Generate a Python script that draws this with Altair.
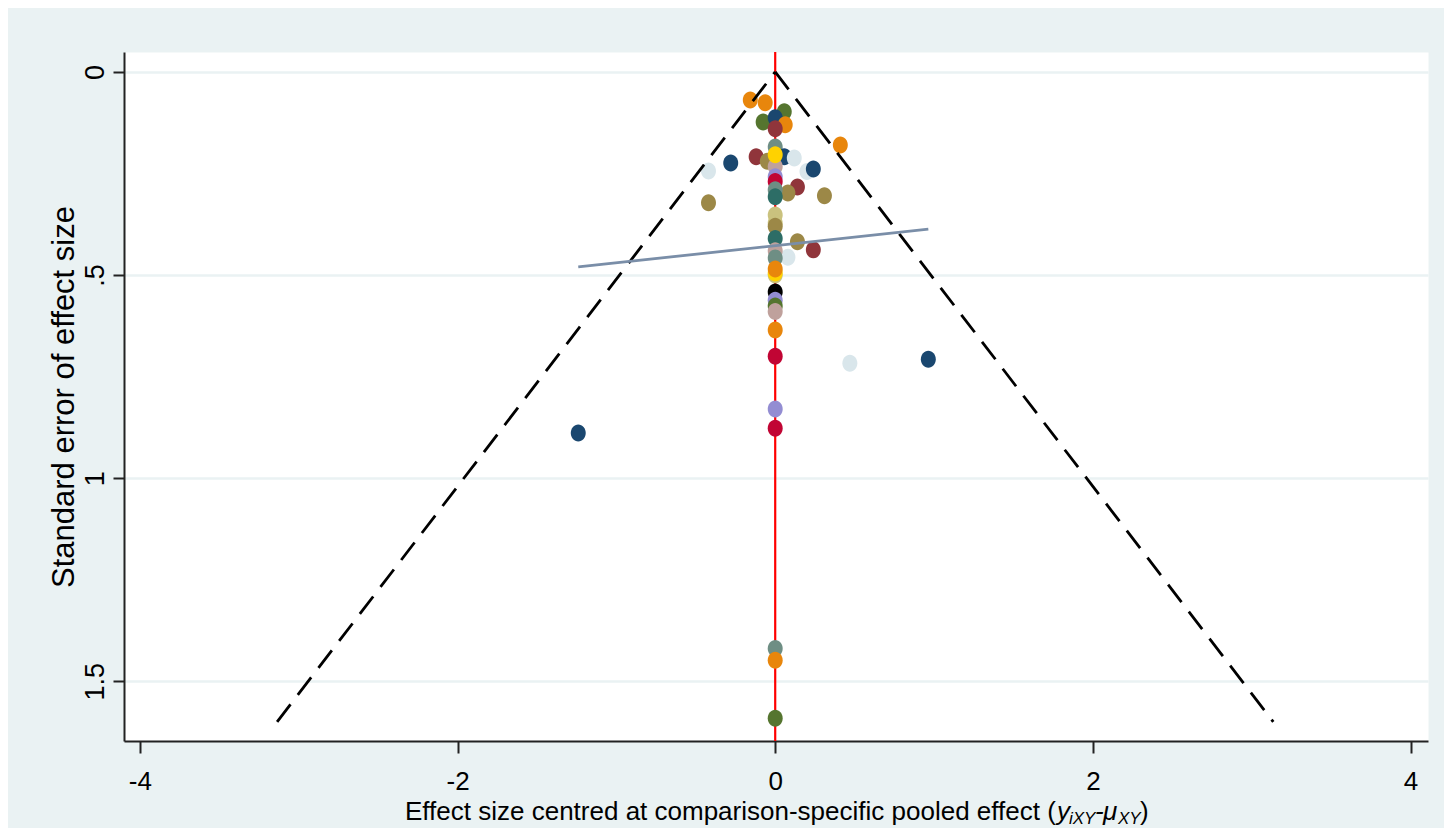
import altair as alt
import pandas as pd

# ---- data ----
pt_x = [-0.157, -0.063, 0.057, -0.076, 0.0, 0.063, 0.0, 0.41, 0.0, 0.057,
        0.12, -0.12, -0.05, -0.28, -0.42, 0.20, 0.24, 0.0, 0.0, 0.0,
        0.0, 0.14, 0.08, 0.31, -0.42, 0.0, 0.0, 0.0, 0.0, 0.0,
        0.0, 0.14, 0.24, 0.08, 0.0, 0.0, 0.0, 0.0, 0.0, 0.0,
        0.0, 0.0, 0.0, 0.0, 0.0, 0.47, 0.964, -1.24, 0.0, 0.0,
        0.0, 0.0, 0.0]
pt_se = [0.069, 0.076, 0.098, 0.123, 0.113, 0.130, 0.140, 0.180, 0.185, 0.209,
         0.212, 0.209, 0.220, 0.224, 0.244, 0.245, 0.239, 0.233, 0.204, 0.258,
         0.270, 0.283, 0.298, 0.305, 0.322, 0.290, 0.307, 0.352, 0.372, 0.380,
         0.410, 0.418, 0.438, 0.456, 0.440, 0.458, 0.500, 0.495, 0.485, 0.542,
         0.562, 0.576, 0.590, 0.635, 0.700, 0.717, 0.707, 0.889, 0.830, 0.877,
         1.419, 1.448, 1.591]
pt_grp = ["dkorange", "dkorange", "forest_green", "forest_green", "navy", "dkorange", "maroon", "dkorange", "teal", "navy",
          "bluishgray", "maroon", "brown", "navy", "bluishgray", "bluishgray", "navy", "erose", "gold", "lavender",
          "cranberry", "maroon", "brown", "brown", "brown", "teal", "emerald", "khaki", "khaki", "brown",
          "emerald", "brown", "maroon", "bluishgray", "erose", "teal", "khaki", "gold", "dkorange", "black",
          "lavender", "forest_green", "erose", "dkorange", "cranberry", "bluishgray", "navy", "navy", "lavender", "cranberry",
          "teal", "dkorange", "forest_green"]

grp_names = ["navy", "maroon", "forest_green", "dkorange", "teal", "cranberry", "lavender",
             "khaki", "emerald", "brown", "erose", "gold", "bluishgray", "black"]
grp_colors = ["#1A476F", "#90353B", "#55752F", "#E8860C", "#6E8E84", "#C10534", "#938DD2",
              "#CAC27E", "#2D6D66", "#9C8847", "#BFA19C", "#FFD200", "#D9E6EB", "#000000"]

funnel_x = [0.0, -3.136, 0.0, 3.136]
funnel_se = [0.0, 1.6, 0.0, 1.6]
funnel_side = ["left", "left", "right", "right"]

reg_x = [-1.24, 0.964]
reg_se = [0.480, 0.387]

x_ticks = [-4, -2, 0, 2, 4]
y_ticks = [0, 0.5, 1, 1.5]

FONT = "Liberation Sans"
W, H = 1304, 689

pts = pd.DataFrame({"x": pt_x, "se": pt_se, "grp": pt_grp})
fun = pd.DataFrame({"x": funnel_x, "se": funnel_se, "side": funnel_side})
reg = pd.DataFrame({"x": reg_x, "se": reg_se})

xscale = alt.Scale(domain=[-4.10, 4.11], nice=False, zero=False)
yscale = alt.Scale(domain=[-0.049, 1.647], nice=False, zero=False, reverse=True)

xaxis = alt.Axis(values=x_ticks, title=None, grid=False,
                 labelExpr="datum.value < 0 ? '-' + abs(datum.value) : '' + datum.value",
                 labelFont=FONT, labelFontSize=26, labelColor="black", labelPadding=15,
                 tickSize=12, tickWidth=2, tickColor="#222222",
                 domainColor="#222222", domainWidth=2, labelAngle=0)
yaxis = alt.Axis(values=y_ticks, title="Standard error of effect size",
                 labelExpr="datum.value == 0.5 ? '.5' : '' + datum.value",
                 labelFont=FONT, labelFontSize=27, labelColor="black",
                 labelAngle=270, labelAlign="center", labelBaseline="alphabetic", labelPadding=10,
                 tickSize=11, tickWidth=2, tickColor="#222222",
                 domainColor="#222222", domainWidth=2,
                 grid=True, gridColor="#EAF2F3", gridWidth=2.5,
                 titleFont=FONT, titleFontSize=31, titleFontWeight="normal", titleColor="black",
                 titlePadding=1)

base_x = alt.X("x:Q", scale=xscale, axis=xaxis)
base_y = alt.Y("se:Q", scale=yscale, axis=yaxis)

redline = alt.Chart(pd.DataFrame({"x": [0.0]})).mark_rule(color="#FF0000", strokeWidth=2.2).encode(
    x=alt.X("x:Q", scale=xscale, axis=xaxis))

ellipse = ("M 0 -1 C 0.486 -1 0.88 -0.5523 0.88 0 C 0.88 0.5523 0.486 1 0 1 "
           "C -0.486 1 -0.88 0.5523 -0.88 0 C -0.88 -0.5523 -0.486 -1 0 -1 Z")
points = alt.Chart(pts).mark_point(shape=ellipse, filled=True, size=289, opacity=1, strokeWidth=0).encode(
    x=base_x, y=base_y,
    color=alt.Color("grp:N", scale=alt.Scale(domain=grp_names, range=grp_colors), legend=None))

funnel = alt.Chart(fun).mark_line(color="black", strokeWidth=2.8, strokeDash=[22, 12]).encode(
    x=base_x, y=base_y, detail="side:N")

regline = alt.Chart(reg).mark_line(color="#7A8EA8", strokeWidth=2.8).encode(x=base_x, y=base_y)

one = pd.DataFrame({"a": [0]})


def txt(s, px, py, size, italic=False):
    kw = dict(text=s, font=FONT, fontSize=size, align="left", baseline="alphabetic", color="black")
    if italic:
        kw["fontStyle"] = "italic"
    return alt.Chart(one).mark_text(**kw).encode(x=alt.value(px), y=alt.value(py))


ty = 768
title_layers = [
    txt("Effect size centred at comparison-specific pooled effect (", 281, ty, 26),
    txt("y", 933, ty, 26, True),
    txt("iXY", 945, ty + 4, 17, True),
    txt("-", 971, ty, 26, True),
    txt("\u03bc", 979, ty, 26, True),
    txt("XY", 994, ty + 4, 17, True),
    txt(")", 1016, ty, 26),
]

chart = alt.layer(redline, points, funnel, regline, *title_layers).properties(
    width=W, height=H,
    autosize=alt.AutoSizeParams(type="none"),
    padding={"left": 116, "top": 44, "right": 16, "bottom": 87},
).configure(background="#EAF2F3").configure_view(fill="white", stroke="transparent")

chart.save("out.html", embed_options={"renderer": "svg", "actions": False})
